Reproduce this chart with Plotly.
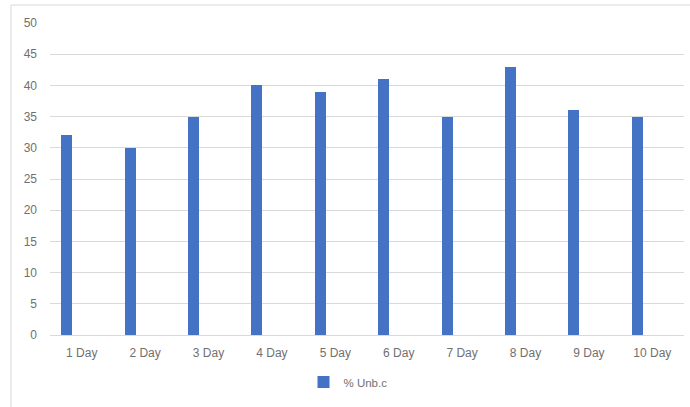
import plotly.graph_objects as go

categories = ["1 Day", "2 Day", "3 Day", "4 Day", "5 Day", "6 Day", "7 Day", "8 Day", "9 Day", "10 Day"]
values = [32, 30, 35, 40, 39, 41, 35, 43, 36, 35]
series_name = "% Unb.c"
y_ticks = [0, 5, 10, 15, 20, 25, 30, 35, 40, 45, 50]

W, H = 690, 407
ml, mr, mt, mb = 50, 6, 23, 72
pw = W - ml - mr
ph = H - mt - mb

fig = go.Figure()
fig.add_trace(go.Bar(
    x=categories, y=values, name=series_name,
    marker=dict(color="#4472C4", line=dict(width=0)),
    width=0.174, offset=-0.323,
    showlegend=True,
))

font = dict(family="Liberation Sans, Arial, sans-serif", size=12, color="#707070")

fig.update_layout(
    width=W, height=H,
    margin=dict(l=ml, r=mr, t=mt, b=mb),
    paper_bgcolor="white", plot_bgcolor="white",
    font=font,
    showlegend=True,
    legend=dict(orientation="h", x=(348 - ml) / pw, xanchor="center",
                y=(mt + ph - 382) / ph, yanchor="middle",
                font=dict(family=font["family"], size=11.5, color="#707070"),
                itemwidth=30),
    xaxis=dict(type="category", showgrid=False, showline=False, ticks="",
               tickfont=font, range=[-0.5, len(categories) - 0.5],
               ticklabelstandoff=9),
    yaxis=dict(range=[0, 50], tickvals=y_ticks, showgrid=True, gridcolor="#d9d9d9",
               gridwidth=1, zeroline=True, zerolinecolor="#d9d9d9", zerolinewidth=1,
               showline=False, ticks="", tickfont=font, ticklabelstandoff=12),
    bargap=0,
)

# chart-area border (left and top edges visible)
fig.add_shape(type="rect", xref="paper", yref="paper",
              x0=(11 - ml) / pw, x1=(W + 20 - ml) / pw,
              y0=-(H + 20 - mt - ph) / ph, y1=1 + (mt - 5) / ph,
              line=dict(color="#d9d9d9", width=1), fillcolor="rgba(0,0,0,0)", layer="below")

fig.write_html("out.html")
